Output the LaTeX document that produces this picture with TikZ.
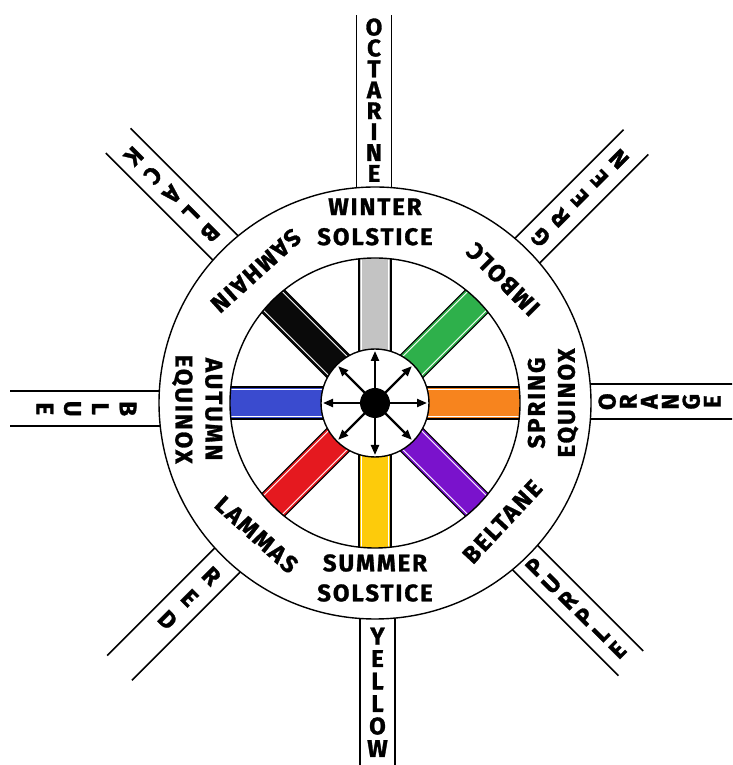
\documentclass[tikz,border=0pt]{standalone}
\usepackage{fontspec}
\newfontfamily\hand[LetterSpace=8, FakeBold=1.2]{Fira Sans}
\usetikzlibrary{arrows.meta,calc}
\definecolor{bgray}{HTML}{C3C3C3}
\definecolor{bgreen}{HTML}{2EB04B}
\definecolor{borange}{HTML}{F7841E}
\definecolor{bpurple}{HTML}{7A12CC}
\definecolor{byellow}{HTML}{FDCB0B}
\definecolor{bred}{HTML}{E5191F}
\definecolor{bblue}{HTML}{3A4BCF}
\definecolor{bblack}{HTML}{0A0A0A}
\begin{document}
\begin{tikzpicture}[x=1pt,y=1pt,
  ringtxt/.style={font=\hand\bfseries\fontsize{24}{30}\selectfont, align=center, inner sep=0pt},
  stacktxt/.style={font=\hand\bfseries\fontsize{24}{#1}\selectfont, align=center, inner sep=0pt},
  stripline/.style={line width=1.7pt},
  circ/.style={line width=1.4pt},
  barline/.style={line width=1.2pt},
  hubarrow/.style={line width=2.2pt, -{Triangle[length=10pt,width=8pt]}}]
\useasboundingbox (0,0) rectangle (732,765);
\clip (0,0) rectangle (732,765);
\coordinate (C) at (375,362);

% outer strips
\foreach \ang/\len/\off [count=\k] in {90/388/1, 270/420/2.5, 0/420/1.3, 180/365/5.7, 135/367/-3.9, 45/369/0, -45/365/-3.2, 225/368/6.7}{
  \begin{scope}[shift={(C)}, rotate=\ang, yshift=\off]
    \coordinate (sa\k) at (190,17.5); \coordinate (sb\k) at (\len,17.5);
    \coordinate (sc\k) at (190,-17.5); \coordinate (sd\k) at (\len,-17.5);
    \draw[stripline] (sa\k) -- (sb\k);
    \draw[stripline] (sc\k) -- (sd\k);
  \end{scope}
}

% wheel
\draw[circ, fill=white] (C) circle (216);
\begin{scope}
  \clip (C) circle (145);
  \foreach \ang/\col in {90/bgray, 45/bgreen, 0/borange, -45/bpurple, -90/byellow, 225/bred, 180/bblue, 135/bblack}{
    \begin{scope}[shift={(C)}, rotate=\ang]
      \fill[\col] (40,-16) rectangle (150,16);
      \draw[white, line width=0.9pt] (40,-13.3) rectangle (150,13.3);
      \draw[barline] (40,-16) rectangle (150,16);
    \end{scope}
  }
\end{scope}
\draw[circ] (C) circle (145);
\draw[circ, fill=white] (C) circle (54);
\fill (C) circle (15);
\foreach \ang in {0,45,...,315}{
  \coordinate (tip\ang) at ($(C)+(\ang:52)$);
  \draw[hubarrow] (C) -- (tip\ang);
}

% ring texts
\node[ringtxt] (winter) at ($(C)+(90:181)$) {WINTER\\SOLSTICE};
\node[ringtxt, rotate=135] (imbolc) at ($(C)+(44:178)$) {IMBOLC};
\node[ringtxt, rotate=222] (samhain) at ($(C)+(132:178)$) {SAMHAIN};
\node[ringtxt, rotate=270] (autumn) at ($(C)+(182:178)$) {AUTUMN\\EQUINOX};
\node[ringtxt, rotate=318] (lammas) at ($(C)+(228:177)$) {LAMMAS};
\node[ringtxt] (summer) at ($(C)+(270:175)$) {SUMMER\\SOLSTICE};
\node[ringtxt, rotate=47] (beltane) at ($(C)+(317:174)$) {BELTANE};
\node[ringtxt, rotate=90] (spring) at ($(C)+(0:178)$) {SPRING\\EQUINOX};

% strip words (stacked letters)
\node[stacktxt=20.9] (octarine) at ($(C)+(90:302.9)+(180:1)$) {O\\C\\T\\A\\R\\I\\N\\E};
\node[stacktxt=22.5] (yellow) at ($(C)+(270:289.3)+(0:2.5)$) {Y\\E\\L\\L\\O\\W};
\node[stacktxt=21, rotate=90] (orange) at ($(C)+(0:284.5)+(90:1.3)$) {O\\R\\A\\N\\G\\E};
\node[stacktxt=27.7, rotate=-90] (blue) at ($(C)+(180:288.5)+(270:5.7)$) {B\\L\\U\\E};
\node[stacktxt=27, rotate=225] (black) at ($(C)+(135:291)+(225:-3.9)$) {B\\L\\A\\C\\K};
\node[stacktxt=27.7, rotate=135] (green) at ($(C)+(45:289.4)$) {G\\R\\E\\E\\N};
\node[stacktxt=23.4, rotate=45] (purple) at ($(C)+(-45:287.5)+(45:-3.2)$) {P\\U\\R\\P\\L\\E};
\node[stacktxt=31, rotate=-45] (red) at ($(C)+(225:269)+(315:6.7)$) {R\\E\\D};
\end{tikzpicture}
\end{document}
